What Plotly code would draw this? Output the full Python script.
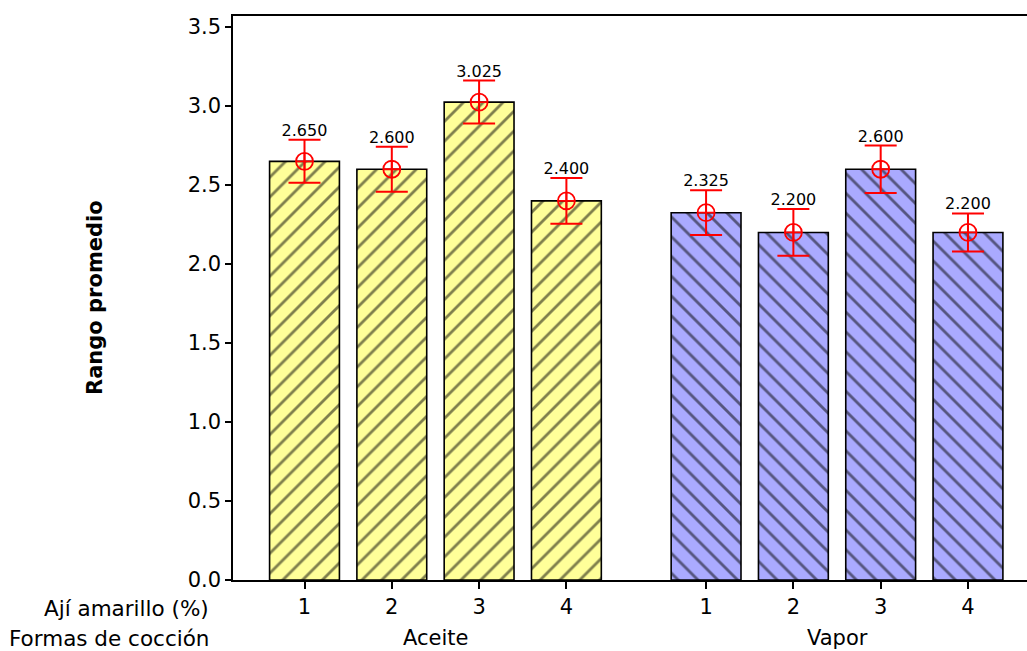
import plotly.graph_objects as go

# ---- data ----
groups = ["Aceite", "Vapor"]
pct_labels = ["1", "2", "3", "4"]
aceite_means = [2.650, 2.600, 3.025, 2.400]
vapor_means = [2.325, 2.200, 2.600, 2.200]
aceite_err = [0.136, 0.142, 0.136, 0.145]
vapor_err = [0.142, 0.148, 0.150, 0.120]

colors = {"Aceite": "#FFFF99", "Vapor": "#AAAAFF"}
shapes_p = {"Aceite": "/", "Vapor": "\\"}
group_gap = 0.6
FONT = "DejaVu Sans"

fig = go.Figure()
all_pos = []
all_txt = []
series = {"Aceite": (aceite_means, aceite_err), "Vapor": (vapor_means, vapor_err)}
group_centers = {}
for gi, g in enumerate(groups):
    means, errs = series[g]
    pos = [gi * (len(pct_labels) + group_gap) + i for i in range(len(pct_labels))]
    group_centers[g] = sum(pos) / len(pos)
    all_pos += pos
    all_txt += pct_labels
    fig.add_trace(go.Bar(
        x=pos, y=means, width=0.8,
        marker=dict(color=colors[g], line=dict(color="black", width=1.6),
                    pattern=dict(shape=shapes_p[g], fgcolor="#000000", size=14, solidity=0.2)),
        showlegend=False, hoverinfo="skip"))
    fig.add_trace(go.Scatter(
        x=pos, y=means, mode="markers",
        marker=dict(symbol="circle-cross-open", size=17, color="#FF0000", line=dict(width=1.8, color="#FF0000")),
        error_y=dict(type="data", array=errs, visible=True, color="#FF0000", thickness=2, width=16),
        showlegend=False))
    fig.add_trace(go.Scatter(
        x=pos, y=[m + e for m, e in zip(means, errs)], mode="text",
        text=[f"{m:.3f}" for m in means], textposition="top center",
        textfont=dict(family=FONT, size=16, color="black"),
        showlegend=False, hoverinfo="skip"))

for g in groups:
    fig.add_annotation(x=group_centers[g], xref="x", y=0, yref="paper", yanchor="top",
                       yshift=-44, text=g, showarrow=False,
                       font=dict(family=FONT, size=21, color="black"))

fig.add_annotation(x=0, xref="paper", xanchor="right", xshift=-22, y=0, yref="paper",
                   yanchor="top", yshift=-14, text="Ají amarillo (%)", showarrow=False,
                   font=dict(family=FONT, size=21.5, color="black"))
fig.add_annotation(x=0, xref="paper", xanchor="right", xshift=-22, y=0, yref="paper",
                   yanchor="top", yshift=-44, text="Formas de cocción", showarrow=False,
                   font=dict(family=FONT, size=21.5, color="black"))
fig.add_annotation(x=0, xref="paper", xanchor="center", xshift=-138, y=0.5, yref="paper",
                   yanchor="middle", textangle=-90,
                   text="<b>Rango promedio</b>", showarrow=False,
                   font=dict(family=FONT, size=21, color="black"))

fig.update_layout(
    width=1027, height=651,
    margin=dict(l=233, r=0, t=16, b=71),
    plot_bgcolor="white", paper_bgcolor="white",
    bargap=0.2, showlegend=False,
    font=dict(family=FONT, size=21, color="black"),
    xaxis=dict(range=[-0.819, 8.276], tickmode="array", tickvals=all_pos, ticktext=all_txt,
               showline=True, linecolor="black", linewidth=1.5, mirror=True,
               ticks="outside", ticklen=7, tickwidth=1.5, tickcolor="black",
               showgrid=False, zeroline=False),
    yaxis=dict(range=[0, 3.57], tickmode="array", tickvals=[0, 0.5, 1, 1.5, 2, 2.5, 3, 3.5],
               tickformat=".1f", showline=True, linecolor="black", linewidth=1.5,
               ticks="outside", ticklen=6, tickwidth=1.5, tickcolor="black",
               showgrid=False, zeroline=False),
)

fig.write_html("out.html")
